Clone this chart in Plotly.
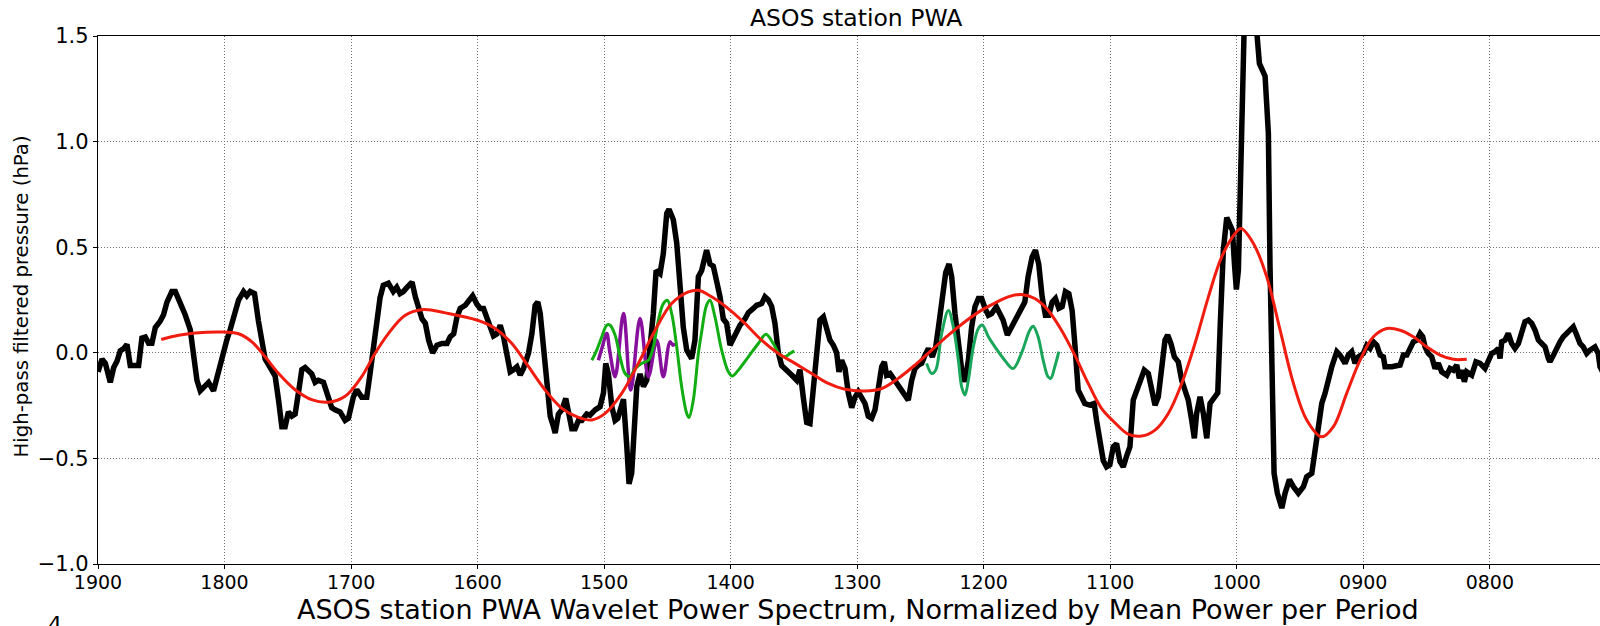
import plotly.graph_objects as go

# ---------------- data (time in decimal hours, value in hPa) ----------------
black_t = [19.000,18.968,18.942,18.903,18.876,18.850,18.824,18.797,18.771,18.745,18.679,18.653,18.626,18.600,18.574,18.547,18.508,18.482,18.455,18.416,18.389,18.350,18.311,18.271,18.245,18.218,18.192,18.153,18.126,18.087,18.047,18.008,17.982,17.955,17.916,17.889,17.850,17.824,17.797,17.763,17.732,17.705,17.679,17.639,17.600,17.574,17.547,17.521,17.495,17.468,17.442,17.416,17.389,17.363,17.337,17.311,17.284,17.258,17.218,17.192,17.153,17.126,17.087,17.047,17.021,16.982,16.955,16.916,16.876,16.850,16.811,16.771,16.745,16.705,16.666,16.639,16.613,16.587,
           16.558,16.518,16.492,16.466,16.439,16.413,16.387,16.355,16.321,16.282,16.242,16.216,16.189,16.163,16.137,16.097,16.058,16.039,16.005,15.979,15.953,15.926,15.900,15.874,15.847,15.821,15.795,15.768,15.742,15.716,15.689,15.663,15.637,15.597,15.571,15.545,15.524,15.505,15.479,15.453,15.426,15.400,15.387,15.361,15.334,15.303,15.282,15.255,15.229,15.203,15.176,15.137,15.111,15.071,15.032,15.005,14.987,14.966,14.939,14.913,14.892,14.874,14.847,14.821,14.803,14.782,14.761,14.742,14.716,14.689,14.663,14.637,14.611,14.589,14.558,14.532,14.505,14.487,14.453,14.426,14.400,14.374,14.347,14.308,14.282,14.255,14.229,
           14.216,14.190,14.163,14.137,14.111,14.084,14.058,14.032,14.005,13.979,13.953,13.926,13.887,13.860,13.821,13.794,13.755,13.729,13.702,13.676,13.650,13.623,13.597,13.557,13.518,13.478,13.452,13.426,13.399,13.373,13.347,13.320,13.294,13.267,13.241,13.215,13.188,13.162,13.144,13.123,13.096,13.070,13.043,13.017,12.991,12.964,12.938,12.912,12.885,12.859,12.833,12.806,12.785,12.767,12.740,12.701,12.661,12.622,12.596,12.569,12.543,12.516,12.490,12.464,12.437,12.406,12.379,12.353,12.327,12.300,12.274,12.253,12.227,12.200,12.174,12.148,12.121,12.095,12.069,12.042,12.016,11.989,11.963,11.937,
           11.900,11.873,11.847,11.813,11.786,11.755,11.715,11.675,11.649,11.617,11.591,11.565,11.538,11.512,11.485,11.459,11.433,11.406,11.380,11.354,11.327,11.301,11.280,11.253,11.227,11.201,11.161,11.127,11.108,11.082,11.055,11.029,11.003,10.976,10.950,10.923,10.897,10.871,10.844,10.818,10.792,10.765,10.731,10.699,10.673,10.646,10.620,10.594,10.567,10.546,10.520,10.493,10.462,10.435,10.409,10.383,10.356,10.335,10.317,10.290,10.264,10.237,10.211,10.185,10.150,10.132,10.106,10.079,10.053,10.034,10.018,10.003,9.987,9.974,9.960,9.939,9.894,9.850,
           9.821,9.776,9.750,9.737,9.723,9.705,9.679,9.644,9.618,9.584,9.552,9.513,9.473,9.447,9.407,9.381,9.355,9.328,9.302,9.276,9.249,9.209,9.183,9.144,9.118,9.091,9.065,9.039,8.999,8.972,8.946,8.920,8.893,8.867,8.841,8.828,8.775,8.709,8.683,8.656,8.630,8.604,8.577,8.551,8.530,8.512,8.486,8.459,8.433,8.407,8.380,8.340,8.314,8.288,8.261,8.241,8.222,8.201,8.182,8.143,8.109,8.077,8.038,8.011,7.985,7.959,7.932,7.919,7.906,7.880,7.854,7.827,7.801,7.774,7.748,7.722,7.695,7.668,7.642,7.616,7.589,7.563,7.537,7.524,7.497,7.471,7.445,7.419,7.392,7.366,7.340,7.313,7.287,7.261,7.234,7.208,7.169,7.143,7.129,7.100]
black_v = [-0.09,-0.03,-0.05,-0.14,-0.07,-0.04,0.01,0.02,0.04,-0.06,-0.06,0.07,0.075,0.045,0.045,0.12,0.15,0.18,0.24,0.29,0.29,0.24,0.18,0.11,0.0,-0.13,-0.18,-0.16,-0.14,-0.18,-0.08,0.0,0.06,0.11,0.2,0.25,0.29,0.27,0.29,0.28,0.15,0.045,-0.03,-0.07,-0.11,-0.22,-0.35,-0.35,-0.28,-0.30,-0.29,-0.19,-0.08,-0.07,-0.09,-0.10,-0.14,-0.13,-0.14,-0.19,-0.26,-0.27,-0.28,-0.32,-0.31,-0.21,-0.175,-0.21,-0.21,-0.10,0.075,0.26,0.32,0.33,0.29,0.31,0.28,0.29,
           0.31,0.335,0.265,0.21,0.16,0.14,0.06,0.0,0.036,0.044,0.044,0.076,0.09,0.17,0.21,0.225,0.25,0.27,0.23,0.21,0.21,0.17,0.12,0.08,0.09,0.13,0.076,0.0,-0.09,-0.08,-0.066,-0.105,-0.074,0.0,0.09,0.225,0.24,0.186,0.013,-0.19,-0.30,-0.35,-0.38,-0.29,-0.27,-0.216,-0.29,-0.36,-0.36,-0.32,-0.32,-0.29,-0.295,-0.27,-0.255,-0.19,-0.05,-0.1,-0.255,-0.32,-0.31,-0.27,-0.22,-0.44,-0.62,-0.57,-0.38,-0.16,-0.1,-0.16,-0.13,0.013,0.186,0.39,0.375,0.47,0.66,0.68,0.63,0.52,0.34,0.12,0.013,-0.027,0.06,0.36,0.39,
           0.43,0.486,0.42,0.41,0.34,0.265,0.16,0.14,0.036,0.068,0.09,0.13,0.16,0.19,0.21,0.225,0.233,0.265,0.25,0.22,0.14,0.0,-0.06,-0.08,-0.105,-0.13,-0.08,-0.21,-0.33,-0.335,-0.18,0.03,0.155,0.17,0.115,0.06,0.036,0.0,-0.09,-0.035,-0.074,-0.19,-0.26,-0.21,-0.185,-0.215,-0.24,-0.30,-0.31,-0.27,-0.16,-0.066,-0.043,-0.106,-0.098,-0.13,-0.17,-0.2,-0.224,-0.13,-0.074,-0.058,-0.05,-0.011,0.02,-0.019,0.028,0.14,0.265,0.38,0.42,0.36,0.186,0.044,-0.08,-0.137,-0.035,0.123,0.218,0.257,0.257,0.21,0.178,0.186,
           0.218,0.186,0.155,0.084,0.115,0.162,0.20,0.24,0.36,0.454,0.486,0.42,0.265,0.178,0.178,0.24,0.257,0.21,0.218,0.29,0.28,0.20,0.044,-0.177,-0.208,-0.24,-0.248,-0.24,-0.32,-0.413,-0.51,-0.54,-0.53,-0.445,-0.43,-0.515,-0.54,-0.49,-0.445,-0.224,-0.177,-0.13,-0.082,-0.098,-0.16,-0.248,-0.208,-0.05,0.06,0.084,0.044,-0.019,-0.043,-0.13,-0.17,-0.224,-0.32,-0.405,-0.287,-0.208,-0.287,-0.405,-0.24,-0.216,-0.19,0.107,0.486,0.64,0.61,0.58,0.42,0.30,0.39,0.74,1.21,1.6,1.9,1.6,
           1.37,1.31,1.04,0.41,-0.22,-0.57,-0.665,-0.735,-0.665,-0.60,-0.634,-0.665,-0.634,-0.587,-0.571,-0.475,-0.35,-0.24,-0.192,-0.114,-0.066,0.005,-0.011,-0.05,-0.011,0.005,-0.05,-0.019,-0.003,0.036,0.021,0.052,0.036,-0.011,-0.019,-0.066,-0.066,-0.058,-0.011,-0.011,0.021,0.052,0.06,0.092,0.076,0.028,-0.003,-0.019,-0.074,-0.05,-0.09,-0.106,-0.074,-0.082,-0.058,-0.121,-0.082,-0.137,-0.09,-0.106,-0.043,-0.05,-0.074,-0.035,-0.003,0.005,0.021,-0.027,0.052,0.06,0.092,0.044,0.021,0.044,0.092,0.147,0.155,0.139,0.107,0.06,0.044,0.028,-0.027,-0.043,-0.011,0.028,0.052,0.076,0.092,0.115,0.123,0.084,0.044,0.028,-0.003,0.013,0.028,-0.003,-0.066,-0.10]

red_t = [18.5,18.363,18.232,18.0,17.889,17.784,17.679,17.574,17.442,17.311,17.179,17.047,16.916,16.811,16.705,16.574,16.426,16.255,16.0,15.861,15.729,15.597,15.466,15.334,15.203,15.097,14.992,14.861,14.729,14.597,14.466,14.334,14.255,14.150,14.0,13.887,13.755,13.623,13.491,13.360,13.228,13.096,12.938,12.806,12.675,12.543,12.411,12.279,12.148,12.016,11.913,11.807,11.702,11.596,11.491,11.385,11.280,11.174,11.069,10.963,10.858,10.752,10.646,10.541,10.435,10.330,10.224,10.119,10.013,9.965,9.868,9.763,9.657,9.552,9.447,9.328,9.236,9.131,9.025,8.920,8.814,8.709,8.604,8.498,8.393,8.288,8.182]
red_v = [0.063,0.083,0.094,0.098,0.09,0.052,-0.019,-0.097,-0.175,-0.222,-0.234,-0.206,-0.113,-0.003,0.091,0.177,0.205,0.189,0.154,0.115,0.044,-0.066,-0.176,-0.263,-0.306,-0.318,-0.287,-0.192,-0.05,0.107,0.233,0.288,0.296,0.265,0.2,0.139,0.06,-0.003,-0.05,-0.098,-0.145,-0.173,-0.181,-0.169,-0.121,-0.058,0.013,0.084,0.147,0.202,0.235,0.265,0.276,0.257,0.202,0.107,-0.011,-0.145,-0.263,-0.331,-0.385,-0.394,-0.366,-0.287,-0.145,0.044,0.265,0.454,0.565,0.589,0.518,0.36,0.107,-0.145,-0.318,-0.398,-0.35,-0.192,-0.035,0.076,0.115,0.107,0.076,0.028,-0.011,-0.031,-0.03]

green1_t = [15.097,15.058,15.018,14.979,14.953,14.913,14.874,14.834,14.795,14.755,14.703,14.650,14.611,14.571,14.532,14.500,14.466,14.426,14.387,14.347,14.329,14.295,14.255,14.229,14.190,14.163,14.124,14.071,14.018,13.987,13.939,13.860,13.781,13.721,13.663,13.610,13.571,13.531,13.497]
green1_v = [-0.035,0.013,0.076,0.131,0.131,0.083,-0.019,-0.098,-0.113,-0.074,-0.05,-0.035,0.028,0.154,0.233,0.249,0.186,0.028,-0.161,-0.287,-0.306,-0.224,-0.003,0.10,0.226,0.249,0.17,0.013,-0.09,-0.11,-0.082,-0.019,0.044,0.088,0.044,-0.011,-0.019,-0.003,0.009]

green2_t = [12.451,12.411,12.379,12.332,12.279,12.240,12.200,12.174,12.148,12.121,12.082,12.042,12.011,11.963,11.911,11.834,11.768,11.702,11.636,11.609,11.570,11.530,11.491,11.470,11.438,11.406]
green2_v = [-0.05,-0.098,-0.082,0.091,0.2,0.123,-0.035,-0.161,-0.2,-0.129,0.028,0.115,0.131,0.076,0.028,-0.035,-0.074,-0.003,0.107,0.126,0.076,-0.035,-0.114,-0.121,-0.066,0.005]

purple_t = [15.045,15.018,14.979,14.957,14.913,14.847,14.789,14.716,14.650,14.584,14.532,14.479,14.456,14.439]
purple_v = [-0.035,0.02,0.091,0.013,-0.113,0.186,-0.176,0.162,-0.113,0.06,-0.113,0.052,0.036,0.044]

x_tick_vals = [19, 18, 17, 16, 15, 14, 13, 12, 11, 10, 9, 8]
x_tick_text = ["1900", "1800", "1700", "1600", "1500", "1400", "1300", "1200", "1100", "1000", "0900", "0800"]
y_tick_vals = [-1.0, -0.5, 0.0, 0.5, 1.0, 1.5]
y_tick_text = ["\u22121.0", "\u22120.5", "0.0", "0.5", "1.0", "1.5"]
x_range = [19.0, 7.129]
y_range = [-1.0, 1.5]

FONT = "DejaVu Sans"

fig = go.Figure()
fig.add_trace(go.Scatter(x=black_t, y=black_v, mode="lines",
                         line=dict(color="black", width=5.5), showlegend=False))
fig.add_trace(go.Scatter(x=purple_t, y=purple_v, mode="lines",
                         line=dict(color="#86109c", width=3.5, shape="spline", smoothing=1.0), showlegend=False))
fig.add_trace(go.Scatter(x=green1_t, y=green1_v, mode="lines",
                         line=dict(color="#12ad12", width=3, shape="spline", smoothing=1.0), showlegend=False))
fig.add_trace(go.Scatter(x=green2_t, y=green2_v, mode="lines",
                         line=dict(color="#1aa65a", width=3, shape="spline", smoothing=1.0), showlegend=False))
fig.add_trace(go.Scatter(x=red_t, y=red_v, mode="lines",
                         line=dict(color="#f01c10", width=3, shape="spline", smoothing=1.0), showlegend=False))

L, T, B = 98, 36, 62
W, H = 1600, 626
plot_w = W - L
plot_h = H - T - B

def px_to_paper_x(px):
    return (px - L) / plot_w

def px_to_paper_y(py):
    return (H - B - py) / plot_h

GRID = dict(showgrid=True, gridcolor="#707070", griddash="1px,2px", gridwidth=1)

fig.update_layout(
    width=W, height=H, autosize=False,
    margin=dict(l=L, r=0, t=T, b=B, pad=0),
    paper_bgcolor="white", plot_bgcolor="white",
    font=dict(family=FONT, color="black"),
    xaxis=dict(range=x_range, tickmode="array", tickvals=x_tick_vals, ticktext=x_tick_text,
               zeroline=False, showline=True, linecolor="black", linewidth=1.3, mirror=True,
               ticks="outside", ticklen=4, tickwidth=1.2, tickcolor="black",
               ticklabelstandoff=-3,
               tickfont=dict(family=FONT, size=19, color="black"), **GRID),
    yaxis=dict(range=y_range, tickmode="array", tickvals=y_tick_vals, ticktext=y_tick_text,
               zeroline=False, showline=True, linecolor="black", linewidth=1.3,
               ticks="outside", ticklen=4, tickwidth=1.2, tickcolor="black",
               tickfont=dict(family=FONT, size=21, color="black"), **GRID),
    annotations=[
        dict(text="ASOS station PWA", xref="paper", yref="paper",
             x=px_to_paper_x(856), y=px_to_paper_y(18.5), xanchor="center", yanchor="middle",
             showarrow=False, font=dict(family=FONT, size=23.5, color="black")),
        dict(text="High-pass filtered pressure (hPa)", xref="paper", yref="paper",
             x=px_to_paper_x(20.5), y=px_to_paper_y(297), xanchor="center", yanchor="middle",
             textangle=-90, showarrow=False, font=dict(family=FONT, size=19.7, color="black")),
        dict(text="ASOS station PWA Wavelet Power Spectrum, Normalized by Mean Power per Period",
             xref="paper", yref="paper",
             x=px_to_paper_x(857.6), y=px_to_paper_y(609), xanchor="center", yanchor="middle",
             showarrow=False, font=dict(family=FONT, size=27, color="black")),
        dict(text="4", xref="paper", yref="paper",
             x=px_to_paper_x(55), y=px_to_paper_y(610), xanchor="center", yanchor="top",
             showarrow=False, font=dict(family=FONT, size=22, color="black")),
    ],
)

fig.write_html("out.html", config={"displayModeBar": False})
